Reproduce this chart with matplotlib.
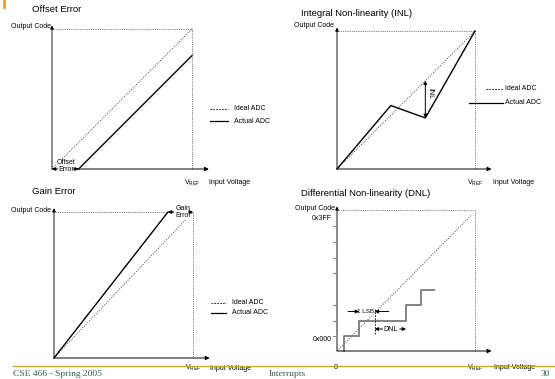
import numpy as np
import matplotlib
matplotlib.use("Agg")
import matplotlib.pyplot as plt

plt.rcParams['font.family'] = ['Liberation Sans', 'DejaVu Sans']

W, H = 555, 379

# ideal transfer line (normalised input voltage / output code)
ideal_x = [0.0, 1.0]
ideal_y = [0.0, 1.0]

# offset error: actual ADC shifted right
offset_x = [0.19, 1.0]
offset_y = [0.0, 0.81]

# INL: actual ADC bends away from the ideal line
inl_x = [0.0, 0.39, 0.64, 1.0]
inl_y = [0.0, 0.46, 0.37, 1.0]

# gain error: actual ADC reaches full scale early
gain_x = [0.0, 0.82]
gain_y = [0.0, 1.0]

# DNL: staircase edges and code levels
dnl_edges = [0.053, 0.16, 0.50, 0.61, 0.70]
dnl_levels = [0.0, 0.106, 0.213, 0.324, 0.435]
dnl_ideal_x = [0.0, 0.97]
dnl_ideal_y = [0.0, 0.96]
dnl_ticks = [0.106, 0.216, 0.326, 0.55, 0.66, 0.77, 0.89]

TXT = 5
TITLE = 6.8
GRAY = '#8a8a8a'

fig = plt.figure(figsize=(W / 100, H / 100), dpi=100)
fig.patch.set_facecolor('white')


def panel(ox, oy, vx, ty):
    ax = fig.add_axes([ox / W, 1 - oy / H, (vx - ox) / W, (oy - ty) / H])
    ax.set_xlim(0, 1)
    ax.set_ylim(0, 1)
    ax.axis('off')
    return ax


def frame(ax, xend, vref_y, iv_x, oc_x, oc_y, zero=False):
    # axes with arrow heads
    ax.plot([0, 0], [0, 1.0], color=GRAY, lw=1.4, clip_on=False, solid_capstyle='butt')
    ax.annotate('', xy=(0, 1.045), xytext=(0, 0.99),
                arrowprops=dict(arrowstyle='-|>', color='black', lw=0.6, mutation_scale=5),
                annotation_clip=False)
    ax.annotate('', xy=(xend, 0), xytext=(0, 0),
                arrowprops=dict(arrowstyle='-|>', color='black', lw=0.7, mutation_scale=6,
                                shrinkA=0, shrinkB=0),
                annotation_clip=False)
    # full scale box
    ax.plot([0, 1], [1, 1], color='#555555', lw=0.6, ls=(0, (1, 1.2)), clip_on=False)
    ax.plot([1, 1], [0, 1], color='#555555', lw=0.6, ls=(0, (1, 1.2)), clip_on=False)
    ax.text(oc_x, oc_y, 'Output Code', fontsize=TXT, ha='right', va='center')
    ax.text(1.0, vref_y, r'V$_{\mathregular{REF}}$', fontsize=TXT, ha='center', va='center')
    ax.text(iv_x, vref_y, 'Input Voltage', fontsize=TXT, ha='left', va='center')
    if zero:
        ax.text(-0.01, vref_y, '0', fontsize=TXT, ha='center', va='center')


def legend(ax, y1, y2, x0, x1, xt, x0b=None):
    ax.plot([x0, x1], [y1, y1], color='black', lw=0.6, ls=(0, (2, 1.5)), clip_on=False)
    ax.plot([x0 if x0b is None else x0b, x1], [y2, y2], color='black', lw=0.9, clip_on=False)
    ax.text(xt, y1, 'Ideal ADC', fontsize=TXT, va='center')
    ax.text(xt, y2, 'Actual ADC', fontsize=TXT, va='center')


def ideal(ax, x, y):
    ax.plot(x, y, color='#444444', lw=0.7, ls=(0, (1, 1.5)), clip_on=False)


def arrow(ax, start, end, lw=0.7):
    ax.annotate('', xy=end, xytext=start,
                arrowprops=dict(arrowstyle='-|>', color='black', lw=lw, mutation_scale=5,
                                shrinkA=0, shrinkB=0),
                annotation_clip=False)


# ---- Offset Error
ax1 = panel(52, 169, 192, 29)
frame(ax1, 1.12, -0.10, 1.12, -0.01, 1.02)
ideal(ax1, ideal_x, ideal_y)
ax1.plot(offset_x, offset_y, color='black', lw=1.0, clip_on=False)
legend(ax1, 0.43, 0.34, 1.13, 1.26, 1.30)
ax1.text(0.10, 0.02, 'Offset\nError', fontsize=TXT, ha='center', va='center',
         linespacing=0.9, bbox=dict(fc='white', ec='none', pad=0.2))
arrow(ax1, (0.04, 0.0), (0.0, 0.0))
arrow(ax1, (0.15, 0.0), (0.19, 0.0))
fig.text(32 / W, 1 - 10 / H, 'Offset Error', fontsize=TITLE, ha='left', va='center')

# ---- Integral Non-linearity
ax2 = panel(337, 169, 475, 31)
frame(ax2, 1.12, -0.10, 1.13, -0.02, 1.04)
ideal(ax2, ideal_x, ideal_y)
ax2.plot(inl_x, inl_y, color='black', lw=1.0, clip_on=False)
legend(ax2, 0.58, 0.48, 1.08, 1.20, 1.22, x0b=0.96)
ax2.annotate('', xy=(inl_x[2], inl_x[2]), xytext=(inl_x[2], inl_y[2]),
             arrowprops=dict(arrowstyle='<|-|>', color='black', lw=0.7, mutation_scale=5,
                             shrinkA=0, shrinkB=0), annotation_clip=False)
ax2.text(inl_x[2] + 0.03, 0.55, 'INL', fontsize=TXT, rotation=270, ha='center', va='center')
fig.text(301 / W, 1 - 13 / H, 'Integral Non-linearity (INL)', fontsize=TITLE, ha='left', va='center')

# ---- Gain Error
ax3 = panel(54, 358, 193, 212)
frame(ax3, 1.12, -0.07, 1.12, -0.02, 1.01)
ideal(ax3, ideal_x, ideal_y)
ax3.plot(gain_x, gain_y, color='black', lw=1.0, clip_on=False)
legend(ax3, 0.38, 0.31, 1.13, 1.24, 1.28, x0b=1.13)
ax3.text(0.93, 1.0, 'Gain\nError', fontsize=TXT, ha='center', va='center',
         linespacing=0.9, bbox=dict(fc='white', ec='none', pad=0.2))
arrow(ax3, (0.86, 1.0), (gain_x[1], 1.0))
arrow(ax3, (0.97, 1.0), (1.0, 1.0))
fig.text(32 / W, 1 - 192 / H, 'Gain Error', fontsize=TITLE, ha='left', va='center')

# ---- Differential Non-linearity
ax4 = panel(337, 351, 475, 210)
frame(ax4, 1.12, -0.12, 1.14, -0.015, 1.01, zero=True)
ideal(ax4, dnl_ideal_x, dnl_ideal_y)
for t in dnl_ticks:
    ax4.plot([-0.03, 0], [t, t], color=GRAY, lw=0.8, clip_on=False)
sx = np.repeat(dnl_edges, 2)[:-1]
sy = np.repeat(dnl_levels, 2)[1:]
ax4.plot(sx, sy, color='#7a7a7a', lw=1.3, clip_on=False)
ax4.text(-0.035, 0.94, '0x3FF', fontsize=TXT, ha='right', va='center')
ax4.text(-0.035, 0.085, '0x000', fontsize=TXT, ha='right', va='center')
# 1 LSB
arrow(ax4, (0.08, 0.28), (dnl_edges[1], 0.28))
arrow(ax4, (0.375, 0.28), (0.273, 0.28))
ax4.text(0.21, 0.28, '1 LSB', fontsize=TXT - 0.5, ha='center', va='center')
ax4.plot([0.273, 0.273], [0.12, 0.30], color='black', lw=0.6, ls=(0, (2, 1.5)), clip_on=False)
# DNL
arrow(ax4, (0.33, 0.156), (0.273, 0.156))
arrow(ax4, (0.455, 0.156), (dnl_edges[2], 0.156))
ax4.text(0.39, 0.156, 'DNL', fontsize=TXT, ha='center', va='center')
fig.text(301 / W, 1 - 193 / H, 'Differential Non-linearity (DNL)', fontsize=TITLE, ha='left', va='center')

# ---- slide footer
fig.add_artist(plt.Line2D([13 / W, 554 / W], [1 - 366 / H, 1 - 366 / H], color='#d4a52a', lw=1.0))
fig.add_artist(plt.Line2D([4 / W, 4 / W], [1, 1 - 7 / H], color='#e8a317', lw=2.0))
foot = dict(fontsize=6.8, family='Liberation Serif', color='#2f6050', va='center')
fig.text(13 / W, 1 - 374 / H, 'CSE 466 - Spring 2005', ha='left', **foot)
fig.text(287 / W, 1 - 374 / H, 'Interrupts', ha='center', **foot)
fig.text(550 / W, 1 - 374 / H, '30', ha='right', **foot)

fig.savefig('out.png', dpi=100)
